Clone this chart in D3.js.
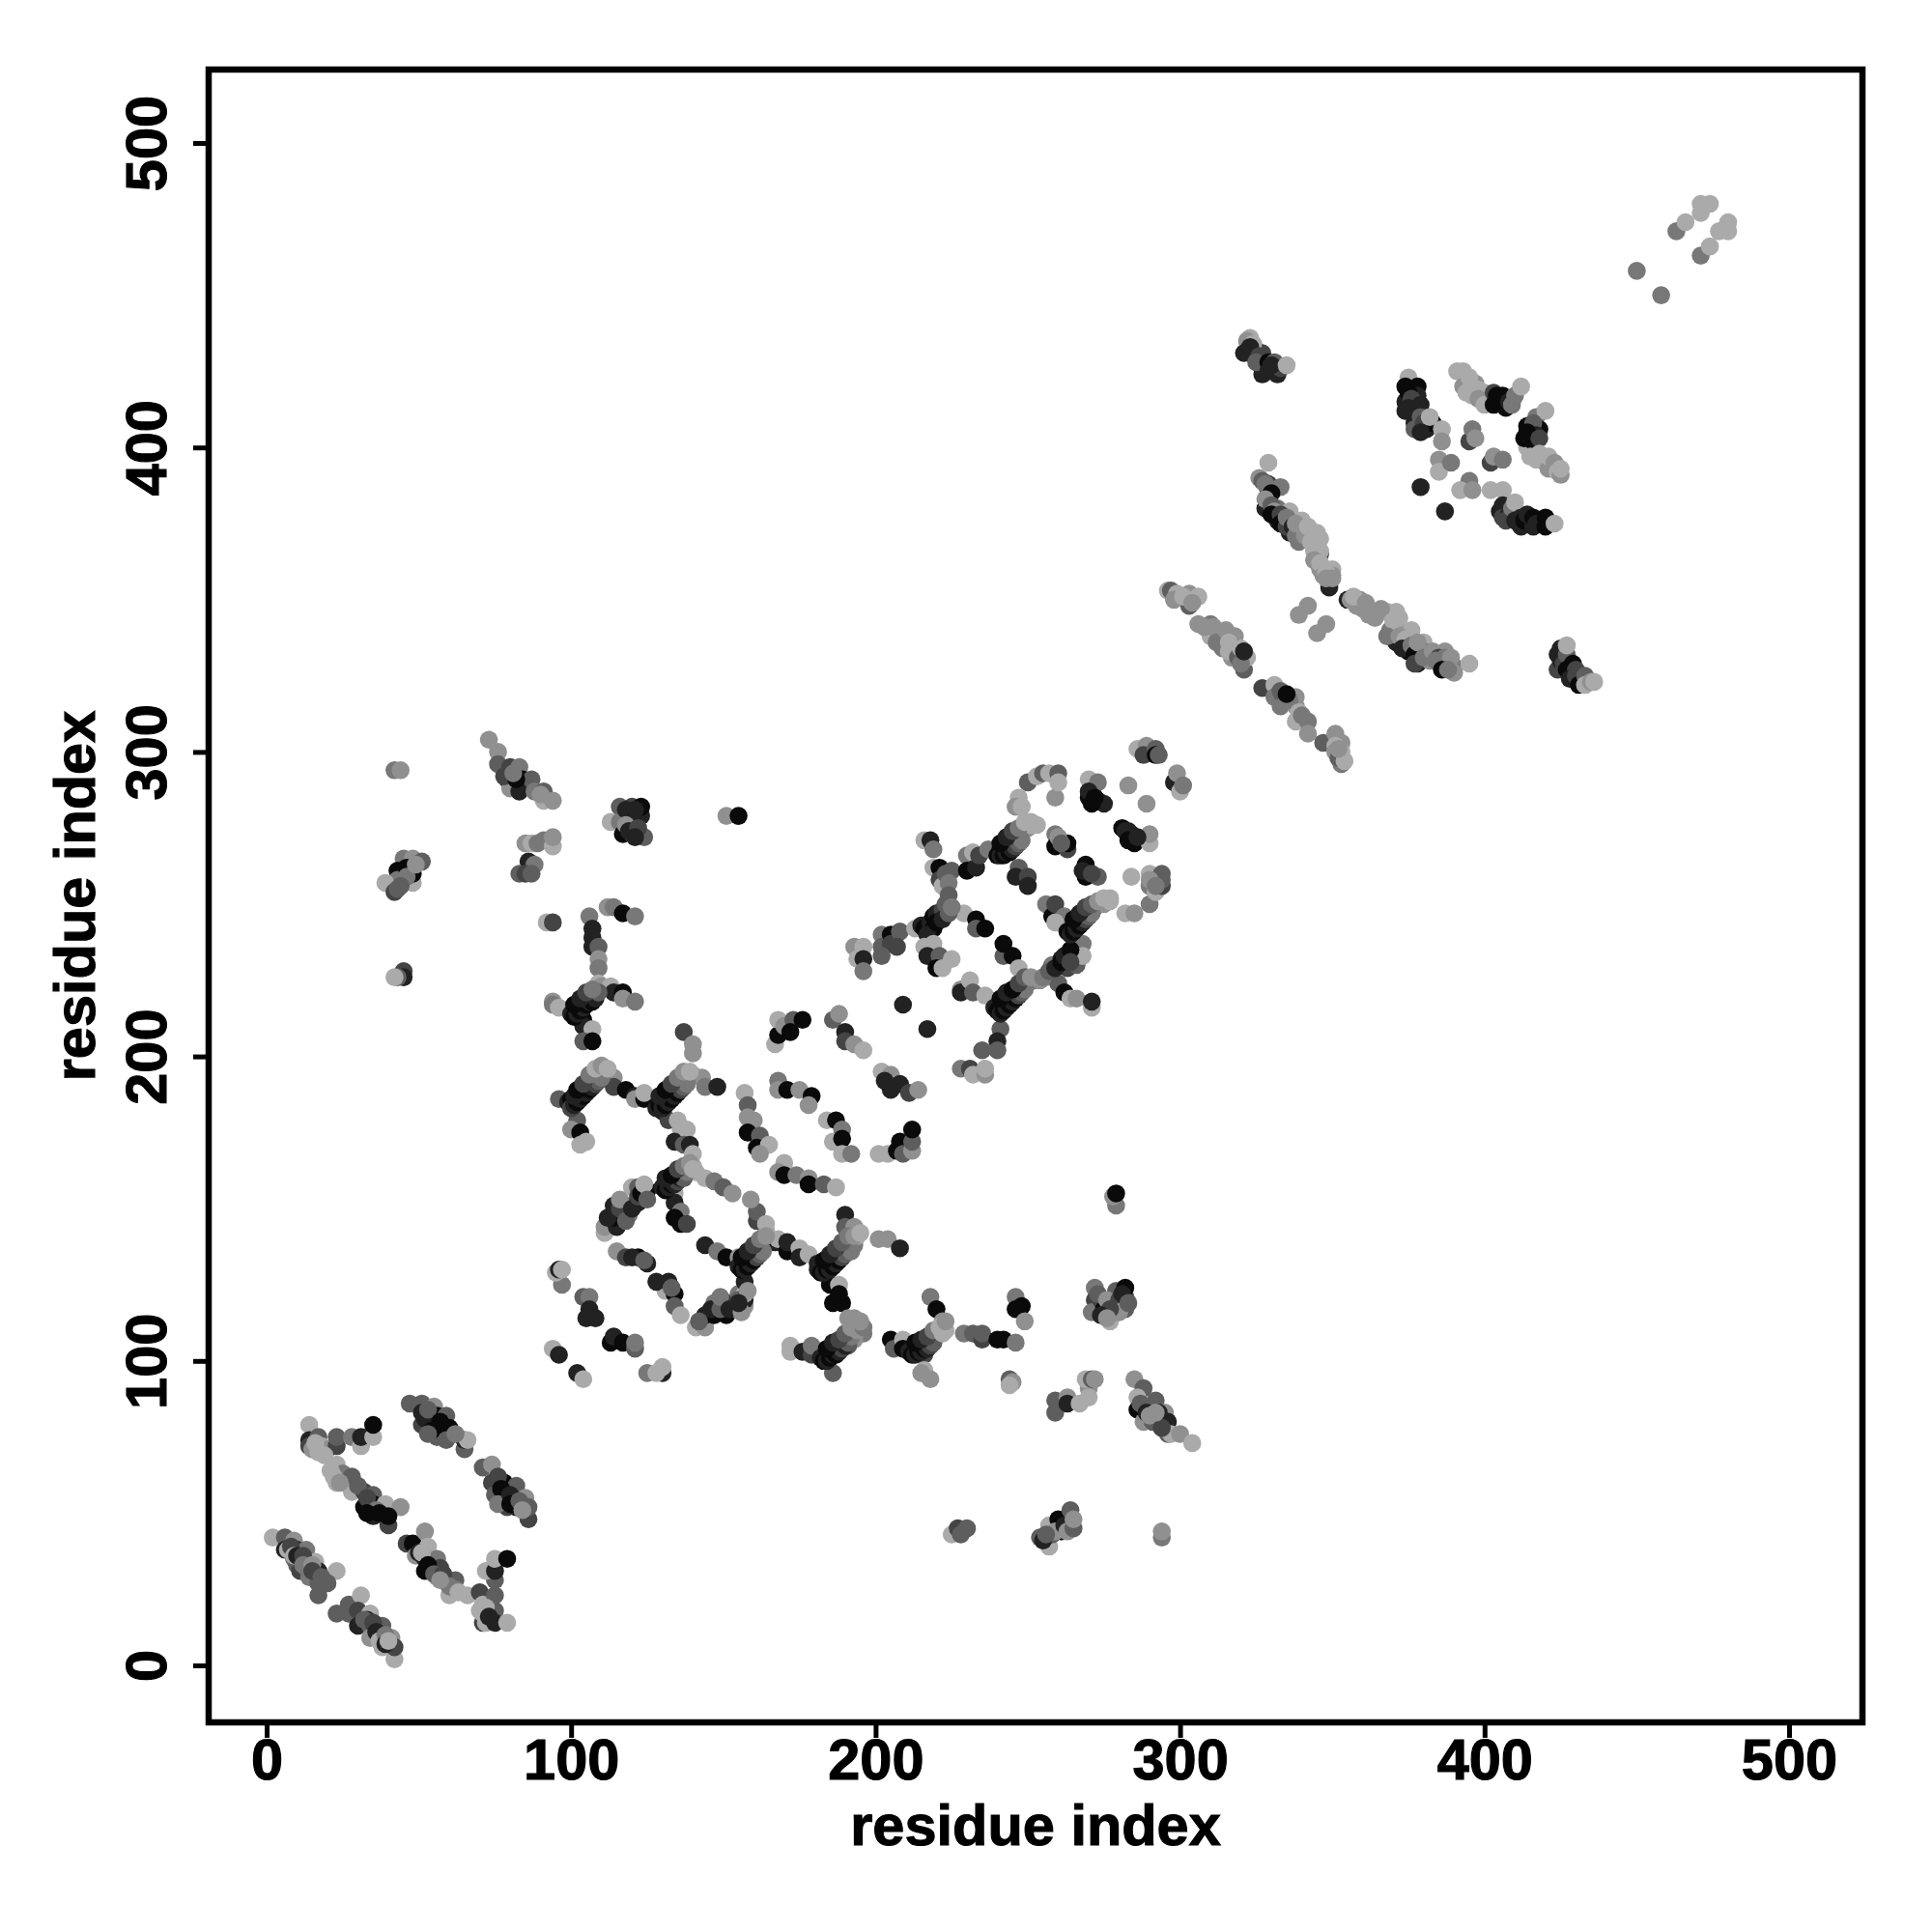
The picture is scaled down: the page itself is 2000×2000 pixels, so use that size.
<!DOCTYPE html>
<html><head><meta charset="utf-8">
<script src="https://cdnjs.cloudflare.com/ajax/libs/d3/7.8.5/d3.min.js"></script>
<style>html,body{margin:0;background:#fff}svg{display:block}text{font-family:"Liberation Sans",Arial,sans-serif;font-weight:bold;fill:#000;stroke:#000;stroke-width:1.1px}</style>
</head><body><div id="c"></div>
<script>
const tickValues=[0,100,200,300,400,500];
const axisTitle="residue index";
const shades=["#0a0a0a","#222222","#444444","#5e5e5e","#787878","#909090","#aaaaaa"];
// each contact: [residue i, residue j, shade index]
const lowLeftA=[[2,42,6],[6,42,3],[9,41,5],[6,38,1],[7,38,6],[10,38,1],[9,35,4],[10,33,3],[13,38,4],[11,31,2],[14,30,1],[13,32,3],[16,34,6],[17,31,1],[14,29,4],[23,31,6],[20,27,3],[17,27,3],[17,23,3]];
const lowLeftB=[[23,17,3],[27,20,3],[27,17,3],[31,23,6],[30,18,2],[34,17,6],[30,13,1],[34,13,3],[35,10,4],[34,9,5],[38,13,3],[37,10,1],[38,6,6],[41,9,5],[42,2,6],[42,6,2]];
const lowLeftC=[[46,40,2],[48,40,0],[52,44,5],[49,36,5],[52,31,0],[52,35,1],[53,39,6],[56,35,4],[57,32,2],[56,29,6],[59,28,3],[62,28,3],[60,23,6],[62,25,4],[66,23,6],[70,24,2],[70,18,6],[71,20,6],[75,23,3],[75,18,3],[71,14,2],[72,14,6],[75,14,1],[79,14,6],[75,28,3],[72,31,6],[75,31,1],[75,35,6],[79,35,0]];
const lowLeftD=[[14,79,6],[14,74,1],[17,75,3],[14,72,2],[15,71,5],[18,72,6],[17,70,6],[20,71,5],[23,72,2],[23,75,3],[28,75,4],[31,72,6],[31,75,1],[35,75,6],[35,79,0],[23,66,6],[23,60,6],[25,63,4],[28,62,3],[28,57,6],[32,57,2],[35,56,3],[32,52,0],[35,49,1],[34,51,5],[35,53,0],[39,53,6],[44,52,5],[40,46,2],[40,49,0]];
const lowLeftE=[[47,86,3],[51,86,3],[55,85,5],[51,79,2],[51,83,1],[56,75,3],[56,82,0],[56,78,0],[59,82,3],[60,78,0],[59,74,3],[65,71,3],[65,74,1],[66,74,6],[71,65,3],[74,66,5],[74,60,2],[75,56,3],[78,60,0],[78,57,0],[82,59,3],[79,52,2],[82,52,1],[85,55,5],[86,48,2],[86,52,3]];
const lowLeftDense=[[8,39,2],[9,36,6],[10,36,1],[12,36,2],[12,33,4],[15,33,5],[15,31,2],[18,29,3],[33,15,1],[32,15,3],[35,14,2],[36,11,1],[37,8,6],[39,10,4],[39,7,1],[40,8,6],[50,37,1],[51,37,6],[53,33,0],[55,30,3],[58,30,2],[60,26,4],[63,24,6],[57,28,5],[71,17,6],[72,19,6],[73,16,1],[16,73,6],[19,69,6],[21,64,6],[22,62,6],[24,60,5],[30,59,3],[33,55,2],[36,51,4],[33,50,0],[37,50,0],[52,81,1],[53,84,3],[54,77,0],[57,80,0],[53,76,3],[62,76,4],[76,62,2],[77,58,0],[76,53,4],[80,56,1],[80,53,0],[83,54,3],[84,51,5]];
const ringLow=[[94,104,6],[96,102,1],[102,96,1],[104,94,6],[113,106,0],[114,108,1],[117,106,0],[121,104,3],[121,106,4],[125,96,4],[130,96,1],[128,96,6],[130,98,6],[97,125,4],[95,129,6],[96,130,1],[97,130,6],[104,121,3],[106,121,4],[106,117,1],[105,114,1],[108,114,1],[115,136,5],[118,134,2],[122,134,0],[125,132,1],[132,126,1],[131,123,6],[134,122,0],[134,118,3],[136,115,6],[141,111,6],[144,111,5],[144,115,1],[147,119,4],[147,115,0],[151,115,0],[151,119,1],[154,117,5],[157,118,5],[157,120,1],[155,122,4],[157,122,6],[157,126,1]];
const ringHigh=[[111,142,6],[111,144,5],[115,144,1],[114,147,0],[114,151,1],[119,148,4],[118,151,3],[120,157,6],[122,152,1],[122,157,3],[125,156,0],[134,155,6],[134,152,1],[136,149,4],[134,147,0],[136,145,0],[138,145,2],[131,158,1],[132,159,0],[133,159,2],[134,161,1],[136,161,3],[137,162,4],[139,164,5],[144,138,1],[148,136,4],[151,134,0],[155,134,5],[157,132,1],[158,134,0],[160,135,1],[161,137,2],[162,138,3],[163,140,5],[164,143,6],[161,146,2],[161,149,3],[159,153,5],[164,145,6],[167,139,1],[168,140,6],[171,136,0],[171,139,1],[175,137,6],[175,134,1],[178,135,6],[181,132,1],[183,131,0],[185,132,1],[186,133,1],[188,135,2],[189,137,3],[191,139,3],[193,138,4],[194,141,6],[190,148,1],[190,144,3],[193,144,5],[201,140,5],[204,140,5],[208,137,1]];
const ringDense=[[112,147,1],[116,150,2],[118,146,3],[116,153,5],[120,150,1],[122,154,2],[123,155,0],[124,158,6],[125,153,3],[120,134,1],[124,133,3],[128,126,1],[133,124,3],[146,117,1],[149,117,3],[149,121,4],[152,117,1],[155,120,3],[156,116,5],[158,123,5],[155,119,1],[142,113,3]];
const ringRight=[[185,125,0],[188,125,6],[188,122,0],[189,119,0],[186,119,0],[191,114,5],[193,114,5],[194,112,5],[196,109,4],[193,107,5],[191,105,3],[188,104,0],[186,103,0],[185,102,1],[183,101,0],[186,96,3],[172,105,6],[172,103,6],[176,103,1],[179,102,2],[179,105,4]];
const upperLeftA=[[73,304,5],[76,300,5],[76,296,3],[80,295,2],[83,295,4],[79,291,1],[84,291,0],[80,288,5],[83,287,1],[87,291,3],[88,287,4],[91,287,3],[91,284,6],[94,284,5],[42,294,4],[44,294,5],[78,292,2],[82,291,0],[81,293,4],[90,286,5]];
const upperLeftB=[[116,282,3],[120,282,2],[123,279,1],[120,279,1],[123,282,0],[113,277,6],[116,277,4],[117,273,0],[120,273,2],[124,272,3],[151,279,5],[155,279,0],[45,265,4],[48,265,5],[51,264,3],[43,261,0],[48,257,6],[48,260,0],[43,258,4],[39,257,6],[42,254,2],[43,255,3],[118,281,1],[121,281,1],[118,276,5],[119,274,1],[122,275,2],[121,272,1],[46,262,0],[46,259,4],[44,256,3],[49,263,5]];
const upperLeftC=[[85,270,5],[87,270,6],[89,270,4],[91,271,4],[94,269,6],[94,272,5],[86,264,1],[88,263,4],[83,260,3],[85,260,2],[87,260,3],[45,228,2],[45,226,1],[43,226,3],[42,226,6],[92,244,6],[94,244,2]];
const tColumn=[[106,246,4],[107,242,1],[107,239,1],[107,236,1],[109,236,3],[109,232,5],[109,229,4],[112,249,5],[114,249,4],[117,247,0],[121,246,4],[94,218,5],[94,217,4],[96,216,6],[101,215,1],[102,216,0],[103,217,1],[104,218,0],[106,219,1],[108,220,2],[109,224,6],[110,223,5],[113,223,6],[114,221,1],[117,221,0],[117,219,5],[121,218,4],[104,212,0],[104,210,1],[107,209,6],[104,205,3],[107,205,0],[137,208,2],[140,204,5],[140,201,5]];
const tBar=[[96,186,3],[99,185,1],[100,186,0],[102,188,1],[103,189,0],[105,191,2],[106,192,4],[108,194,6],[109,196,5],[111,194,6],[114,193,5],[114,190,2],[118,189,0],[121,187,1],[121,186,5],[124,186,0],[124,188,6],[130,185,1],[130,182,1],[131,186,0],[133,188,1],[134,189,2],[136,192,4],[138,193,5],[140,194,6],[143,193,5],[144,190,4],[148,190,1],[102,179,3],[100,176,5],[103,175,0],[103,171,6],[105,172,6]];
const tDown=[[132,179,2],[135,179,6],[136,176,6],[134,172,1],[138,176,6],[137,171,3],[139,171,1],[140,168,6],[140,164,6],[141,162,6],[144,160,6],[147,159,4],[150,157,3],[153,155,5]];
const midDiagA=[[157,188,6],[158,184,3],[158,180,5],[160,179,5],[158,175,0],[162,174,3],[161,170,0],[165,171,6],[162,168,5],[170,165,6],[168,162,5],[170,161,0],[174,161,4],[178,160,5],[178,158,0],[183,158,3],[187,157,6]];
const midDiagB=[[168,192,4],[168,189,5],[171,189,0],[175,189,5],[179,187,0],[178,184,5],[184,179,6],[187,179,0],[189,176,4],[186,172,6],[189,173,0],[189,168,6],[192,168,4],[201,168,6],[204,168,6],[207,169,0],[208,172,0],[209,168,3],[212,169,5],[212,172,3],[212,176,0]];
const midDiagC=[[167,204,6],[168,207,0],[168,212,6],[170,210,5],[173,212,3],[172,208,0],[176,212,0],[186,212,3],[188,214,5],[190,208,1],[190,205,2],[193,204,5],[196,202,6],[209,217,1],[217,209,1],[202,195,6],[205,194,5],[203,192,1],[208,191,1],[205,189,1],[211,188,2],[214,189,5]];
const midDiagD=[[193,236,5],[196,236,6],[194,232,6],[196,232,1],[196,228,4],[202,240,4],[202,236,3],[205,240,0],[205,237,2],[208,241,3],[202,233,3],[207,236,2]];
const rightT=[[205,107,0],[206,104,3],[209,107,6],[209,104,0],[212,104,1],[213,104,0],[215,106,1],[217,106,0],[218,108,1],[218,121,4],[220,117,0],[220,109,3],[222,113,5],[222,112,6],[223,110,6],[216,102,2],[216,97,6],[215,96,5],[218,94,5],[229,109,4],[232,109,3],[235,107,2],[235,109,3],[240,107,0],[242,107,0],[246,106,4],[246,121,4],[246,117,0],[248,118,0],[249,113,5],[244,94,3],[245,93,5],[244,92,6]];
const rightClusters=[[272,124,4],[272,120,2],[271,116,4],[274,120,2],[275,117,0],[277,113,6],[278,116,3],[278,120,1],[279,123,3],[282,121,2],[282,117,3],[282,124,0],[273,122,3],[276,120,5],[280,120,2],[280,116,5],[281,122,1],[277,117,2],[283,119,3],[274,115,1],[276,114,5],[279,151,4],[278,154,5],[279,155,0],[259,87,3],[259,83,3],[263,88,5],[263,86,1],[267,86,6],[270,91,5],[270,88,6],[269,94,6],[271,94,3],[272,94,5],[285,94,5],[288,91,3],[286,88,6],[292,87,3],[286,84,0],[288,80,5],[291,80,3],[295,83,5],[296,80,1],[296,76,3],[297,76,6],[300,76,5],[304,73,6],[287,86,3],[289,83,1],[290,82,5],[293,83,1],[294,78,2],[292,83,5]];
const bottomRow=[[225,43,6],[227,45,2],[228,43,3],[230,45,3],[254,42,3],[257,46,6],[257,42,2],[257,39,6],[260,48,0],[261,44,0],[258,43,3],[259,44,5],[262,46,1],[263,44,5],[255,41,1],[256,43,3],[264,51,3],[265,45,3],[265,48,5],[294,42,4],[294,44,5]];
const betaA=[[216,271,6],[218,271,1],[219,268,4],[219,262,6],[221,262,0],[221,258,2],[222,256,6],[223,260,3],[225,261,3],[224,257,4],[224,253,3],[224,249,5],[230,266,4],[232,267,6],[230,261,0],[233,262,1],[234,266,2],[237,268,4],[241,268,0],[242,268,1],[244,269,0],[245,271,1],[247,272,2],[248,274,3],[250,275,5],[251,276,6],[247,262,3],[246,259,1],[250,259,2],[250,256,1],[250,290,3],[247,285,6],[246,282,5],[248,282,6],[253,292,6],[255,293,3],[257,293,6],[260,293,3],[259,285,5],[260,290,6]];
const betaB=[[270,291,6],[273,290,4],[270,285,0],[273,284,1],[275,283,1],[283,289,5],[289,283,5],[281,275,0],[282,274,1],[284,273,0],[285,270,0],[290,270,6],[290,273,5],[259,273,4],[259,269,0],[263,268,2],[263,270,0],[269,263,0],[269,259,0],[273,259,3],[256,250,4],[258,246,0],[259,250,2],[262,246,4],[259,244,6],[266,244,0],[267,246,1],[269,247,0],[271,248,2],[272,249,3],[275,250,5],[277,251,6],[282,247,6],[285,247,5],[290,250,4],[284,259,6],[290,260,6],[290,256,4],[292,254,6],[294,256,2],[294,258,3],[294,260,3],[286,301,6],[289,302,5],[288,299,2],[292,301,3],[292,299,0],[293,299,3],[298,290,1],[299,293,5],[300,287,6],[301,289,4],[260,272,5],[261,270,3],[270,287,1],[272,285,0],[271,283,0],[283,274,1],[283,271,0],[286,272,1],[268,261,1],[271,260,2],[290,258,5],[292,256,4]];
const betaC=[[229,247,6],[233,245,0],[233,242,3],[236,242,0],[242,233,3],[242,237,0],[245,233,0],[247,229,6],[228,222,5],[228,221,1],[231,225,6],[232,221,3],[236,220,6],[240,216,1],[242,218,0],[244,219,1],[245,220,0],[247,221,1],[248,223,2],[250,224,4],[252,225,4],[254,225,5],[256,226,5],[258,230,4],[260,224,3],[261,232,1],[263,229,2],[262,221,0],[266,230,3],[267,236,1],[268,237,4],[268,233,6],[264,219,6],[266,219,5],[271,216,6],[271,218,1],[241,209,3],[240,205,1],[235,202,3],[240,202,3],[228,196,4],[231,196,2],[232,194,6],[236,194,5],[236,196,6]];
const thickLeft=[[100,183,2],[101,184,1],[102,185,0],[103,186,1],[104,187,0],[105,188,1],[106,189,0],[107,190,1],[108,191,2],[109,192,3],[110,193,4],[101,187,1],[102,189,0],[104,191,2],[106,194,4],[108,196,6],[110,197,5],[112,196,6],[100,214,1],[101,213,0],[102,214,1],[103,215,0],[104,216,1],[105,217,0],[106,218,1],[107,218,0],[108,219,1],[109,221,3],[101,217,0],[103,219,1],[105,221,2],[107,222,4],[128,183,1],[129,184,0],[130,183,1],[131,184,0],[132,185,1],[133,186,0],[134,187,1],[135,188,0],[136,189,2],[137,190,3],[138,191,4],[129,187,1],[131,189,0],[133,191,2],[135,193,4],[137,195,5],[139,195,6]];
const thickMid=[[130,157,1],[131,156,0],[132,157,1],[133,158,0],[134,158,1],[135,159,2],[136,160,1],[137,160,3],[138,162,4],[131,160,1],[133,161,0],[135,163,2],[137,164,4],[139,165,5],[140,163,6],[155,131,1],[156,130,0],[157,130,1],[158,131,0],[159,132,1],[160,133,0],[161,134,2],[162,135,3],[163,136,4],[156,134,0],[158,136,1],[160,138,2],[162,140,4],[164,141,5],[181,130,1],[182,129,0],[183,129,1],[184,130,0],[185,130,1],[186,131,0],[187,132,1],[188,133,0],[189,134,2],[190,135,3],[191,136,3],[192,136,4],[183,133,0],[185,135,1],[187,137,2],[189,139,3],[191,141,4],[193,141,5],[195,142,6]];
const thickRight=[[182,101,1],[183,100,0],[184,100,1],[185,101,0],[186,102,1],[187,102,0],[188,103,1],[189,104,2],[190,105,1],[191,106,3],[192,108,4],[184,104,0],[186,106,1],[188,107,2],[190,109,3],[192,111,5],[194,110,5],[196,111,4],[195,113,5],[211,103,1],[212,102,0],[213,102,1],[214,103,0],[215,103,1],[216,104,0],[217,104,1],[218,105,2],[219,106,3],[213,106,0],[215,107,1],[217,108,2],[219,110,4],[221,111,6],[222,109,6],[223,113,5]];
const thickBeta=[[213,242,6],[215,243,1],[216,242,0],[218,244,1],[219,246,0],[220,247,1],[222,248,2],[223,250,3],[219,242,0],[217,240,1],[220,244,0],[222,245,1],[224,247,3],[225,249,4],[216,236,6],[219,237,6],[217,233,1],[221,233,3],[220,229,0],[222,229,6],[225,232,6],[239,216,1],[240,215,0],[241,214,1],[242,215,0],[243,216,1],[244,217,0],[245,218,1],[246,219,0],[247,220,2],[248,221,3],[249,222,4],[241,219,0],[243,221,1],[245,222,0],[247,224,2],[249,226,3],[251,226,5],[255,226,4],[257,228,3],[259,229,1],[261,231,0],[262,233,1],[264,235,0],[264,231,2],[263,241,0],[264,240,1],[265,241,0],[266,242,1],[267,243,0],[268,244,1],[269,245,2],[270,246,3],[271,247,4],[265,245,0],[267,247,1],[269,249,2],[271,250,3],[273,251,5],[275,252,6],[277,252,6],[240,266,0],[241,266,1],[242,266,0],[243,267,1],[244,267,0],[245,268,1],[246,269,2],[247,270,3],[248,271,4],[241,270,0],[243,272,1],[245,274,2],[247,275,4],[249,277,6],[251,277,6],[253,276,6]];
const upperTop=[[323,436,6],[322,435,5],[321,431,1],[325,432,3],[327,431,2],[327,428,0],[327,424,1],[332,424,1],[332,427,2],[324,434,6],[323,433,1],[326,430,2],[325,428,3],[329,428,0],[329,425,1],[331,428,3],[333,426,2],[330,427,1],[335,427,6]];
const strandA=[[329,395,6],[326,390,5],[327,389,3],[329,388,2],[329,386,1],[333,387,4],[329,382,4],[328,380,1],[332,380,4],[332,376,1],[336,372,1],[336,376,3],[336,379,6],[339,369,4],[340,373,6],[340,376,6],[346,365,2],[345,372,6],[345,369,6],[344,366,6],[346,366,6],[346,360,5],[349,356,2],[350,360,6],[350,358,5],[328,388,4],[330,385,0],[328,383,5],[330,381,3],[331,379,5],[330,378,0],[333,378,2],[333,375,0],[335,374,2],[335,377,4],[337,374,1],[338,371,4],[338,375,5],[341,371,5],[342,374,6],[343,369,6],[346,370,6],[344,363,5],[346,362,6],[347,358,5],[348,359,6],[349,354,1],[350,357,5],[348,357,5]];
const strandB=[[355,350,1],[356,350,5],[359,350,5],[360,347,5],[365,346,4],[368,346,6],[371,346,6],[369,340,4],[371,336,1],[373,340,5],[376,340,6],[375,333,0],[375,335,3],[378,329,1],[380,336,6],[380,333,4],[382,330,5],[387,333,5],[387,329,1],[388,330,6],[390,328,4],[390,326,5],[358,348,5],[357,351,6],[361,349,5],[362,345,5],[364,344,5],[366,347,5],[370,343,6],[372,344,6],[368,338,4],[372,338,5],[374,337,6],[373,334,1],[376,335,4],[377,332,0],[378,336,5],[377,329,2],[380,331,4],[383,333,5],[385,331,2],[384,330,4],[387,331,4],[389,331,5],[386,327,0],[388,327,4],[395,329,6],[342,348,5],[339,345,5],[348,342,5],[345,339,5]];
const strandC=[[296,353,6],[297,353,3],[299,352,6],[303,348,3],[303,352,5],[306,351,6],[306,342,5],[310,342,4],[310,338,6],[314,338,5],[318,338,5],[314,334,4],[318,334,2],[317,331,5],[321,327,3],[322,331,6],[327,321,2],[331,322,6],[331,318,4],[334,318,2],[338,318,5],[333,315,4],[338,315,5],[338,310,6],[342,310,4],[342,306,5],[347,303,3],[351,306,5],[353,303,5],[353,296,4],[353,300,6],[298,350,5],[301,351,6],[304,349,5],[308,341,5],[311,341,5],[312,336,4],[315,340,5],[316,336,6],[316,333,6],[319,331,3],[320,329,4],[320,334,6],[321,333,1],[333,320,3],[336,317,4],[335,319,0],[339,313,6],[340,312,4],[351,302,6],[351,300,5],[352,298,3],[354,297,6],[352,301,5]];
const knotA=[[375,423,6],[374,420,0],[378,420,0],[378,417,1],[374,415,1],[374,412,1],[377,412,2],[377,408,1],[377,406,3],[381,406,1],[375,418,0],[376,416,2],[375,413,1],[379,414,1],[379,410,3],[380,408,2],[383,408,0],[379,405,1],[382,410,6],[386,406,6],[386,402,5],[391,425,6],[393,425,6],[393,420,5],[397,421,5],[396,417,6],[395,423,6],[394,418,6],[398,419,6],[400,418,6],[398,416,5],[400,414,6],[403,418,2],[403,414,0],[404,417,0],[405,415,0],[407,413,0],[406,417,0],[408,415,1],[409,414,4],[410,417,4],[412,420,6]];
const knotB=[[414,400,6],[414,407,0],[417,410,4],[420,412,6],[418,406,0],[413,403,0],[415,404,1],[416,408,3],[417,404,1],[414,405,0],[416,402,0],[418,403,2],[395,402,2],[396,406,4],[397,403,5],[385,396,5],[385,392,6],[389,395,4],[402,395,2],[403,397,5],[406,396,4],[415,397,6],[418,398,6],[417,396,6],[420,395,6],[422,394,3],[421,393,5],[421,397,6],[423,395,5],[424,392,6],[425,391,5],[425,393,6]];
const knotC=[[395,389,4],[392,386,6],[396,386,5],[402,386,6],[406,386,6],[405,379,1],[406,381,1],[406,377,2],[408,378,1],[407,376,2],[409,380,4],[410,382,6],[410,376,1],[412,374,1],[412,377,1],[413,376,0],[414,378,1],[416,374,1],[416,377,0],[418,376,0],[417,375,1],[420,374,0],[420,377,0],[423,375,6],[379,387,1],[387,379,1]];
const knotD=[[424,332,1],[424,327,2],[425,330,1],[426,329,2],[425,334,1],[427,332,3],[427,327,0],[429,329,0],[427,335,6],[430,327,2],[428,324,1],[430,325,2],[431,322,0],[433,325,3],[433,322,6],[435,323,5],[436,323,6]];
const topPair=[[450,458,4],[458,450,4],[463,471,4],[466,474,6],[471,477,6],[471,480,6],[474,480,6],[471,463,4],[474,466,6],[477,471,6],[480,474,6],[480,471,6]];
const contacts=[lowLeftA,lowLeftB,lowLeftC,lowLeftD,lowLeftE,lowLeftDense,ringLow,ringHigh,ringDense,ringRight,upperLeftA,upperLeftB,upperLeftC,tColumn,tBar,tDown,midDiagA,midDiagB,midDiagC,midDiagD,rightT,rightClusters,bottomRow,betaA,betaB,betaC,thickLeft,thickMid,thickRight,thickBeta,upperTop,strandA,strandB,strandC,knotA,knotB,knotC,knotD,topPair].flat();

const svg=d3.select("#c").append("svg").attr("width",2000).attr("height",2000);
const x=d3.scaleLinear().domain([0,500]).range([276,1852]);
const y=d3.scaleLinear().domain([0,500]).range([1724,148]);
const L=216,R=1928,T=72,B=1783;
svg.append("g").selectAll("circle").data(contacts).join("circle")
 .attr("cx",d=>x(d[0])).attr("cy",d=>y(d[1])).attr("r",9.3).attr("fill",d=>shades[d[2]]);
svg.append("rect").attr("x",L).attr("y",T).attr("width",R-L).attr("height",B-T).attr("fill","none").attr("stroke","#000").attr("stroke-width",6.5);
const gx=svg.append("g").attr("transform",`translate(0,${B})`).call(d3.axisBottom(x).tickValues(tickValues).tickFormat(d3.format("d")).tickSize(16).tickPadding(10));
const gy=svg.append("g").attr("transform",`translate(${L},0)`).call(d3.axisLeft(y).tickValues(tickValues).tickFormat(d3.format("d")).tickSize(16));
[gx,gy].forEach(g=>{g.select(".domain").remove();g.selectAll(".tick line").attr("stroke","#000").attr("stroke-width",5);g.selectAll("text").attr("font-size",59.5).attr("font-family","Liberation Sans").attr("font-weight","bold");});
gx.selectAll("text").attr("dy",null).attr("y",null).attr("dominant-baseline",null).attr("y",59);
gy.selectAll("text").attr("x",null).attr("dy",null).attr("transform","translate(-44,0) rotate(-90)").attr("text-anchor","middle").attr("y",0);
svg.append("text").attr("x",(L+R)/2).attr("y",1910).attr("text-anchor","middle").attr("font-size",59.5).text(axisTitle);
svg.append("text").attr("transform",`translate(98,${(T+B)/2}) rotate(-90)`).attr("text-anchor","middle").attr("font-size",59.5).text(axisTitle);
</script></body></html>
